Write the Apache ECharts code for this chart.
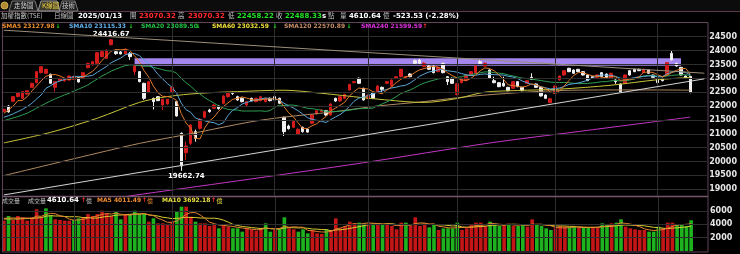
<!DOCTYPE html>
<html>
<head>
<meta charset="utf-8">
<script src="https://cdn.jsdelivr.net/npm/echarts@6.0.0/dist/echarts.min.js"></script>
<style>
html,body{margin:0;padding:0;background:#000;overflow:hidden;}
#chart{width:740px;height:254px;}
</style>
</head>
<body>
<div id="chart"></div>
<script>
// ---------------- DATA ----------------
const dates = [
'2024/06/07','2024/06/11','2024/06/12','2024/06/13','2024/06/14','2024/06/17','2024/06/18','2024/06/19','2024/06/20','2024/06/21',
'2024/06/24','2024/06/25','2024/06/26','2024/06/27','2024/06/28','2024/07/01','2024/07/02','2024/07/03','2024/07/04','2024/07/05',
'2024/07/08','2024/07/09','2024/07/10','2024/07/11','2024/07/12','2024/07/15','2024/07/16','2024/07/17','2024/07/18','2024/07/19',
'2024/07/22','2024/07/23','2024/07/26','2024/07/29','2024/07/30','2024/07/31','2024/08/01','2024/08/02','2024/08/05','2024/08/06',
'2024/08/07','2024/08/08','2024/08/09','2024/08/12','2024/08/13','2024/08/14','2024/08/15','2024/08/16','2024/08/19','2024/08/20',
'2024/08/21','2024/08/22','2024/08/23','2024/08/26','2024/08/27','2024/08/28','2024/08/29','2024/08/30','2024/09/02','2024/09/03',
'2024/09/04','2024/09/05','2024/09/06','2024/09/09','2024/09/10','2024/09/11','2024/09/12','2024/09/13','2024/09/16','2024/09/18',
'2024/09/19','2024/09/20','2024/09/23','2024/09/24','2024/09/25','2024/09/26','2024/09/27','2024/09/30','2024/10/01','2024/10/04',
'2024/10/07','2024/10/08','2024/10/09','2024/10/11','2024/10/14','2024/10/15','2024/10/16','2024/10/17','2024/10/18','2024/10/21',
'2024/10/22','2024/10/23','2024/10/24','2024/10/25','2024/10/28','2024/10/29','2024/10/30','2024/11/01','2024/11/04','2024/11/05',
'2024/11/06','2024/11/07','2024/11/08','2024/11/11','2024/11/12','2024/11/13','2024/11/14','2024/11/15','2024/11/18','2024/11/19',
'2024/11/20','2024/11/21','2024/11/22','2024/11/25','2024/11/26','2024/11/27','2024/11/28','2024/11/29','2024/12/02','2024/12/03',
'2024/12/04','2024/12/05','2024/12/06','2024/12/09','2024/12/10','2024/12/11','2024/12/12','2024/12/13','2024/12/16','2024/12/17',
'2024/12/18','2024/12/19','2024/12/20','2024/12/23','2024/12/24','2024/12/25','2024/12/26','2024/12/27','2024/12/30','2024/12/31',
'2025/01/02','2025/01/03','2025/01/06','2025/01/07','2025/01/08','2025/01/09','2025/01/10','2025/01/13'
];
const opens = [
21810,22000,22170,22340,22280,22434,22675,22843,23203,23180,
23143,22675,22915,22905,22939,22960,23023,23035,23384,23480,
23540,23780,23720,24213,23960,23950,23877,23900,23240,23240,
22819,22482,22278,22338,22037,22074,22518,22158,21016,20319,
20655,21076,21196,21593,21857,21917,22001,22098,22338,22482,
22338,22278,22037,22278,22158,22194,22158,22278,22338,22278,
21593,21280,21232,20992,21232,21160,21377,21720,21800,21833,
21677,22278,22182,22278,22578,22843,23000,22638,22280,22482,
22518,22674,22820,22723,23000,23059,23000,23155,23636,23660,
23420,23444,23444,23240,23540,23059,23000,22420,22843,22915,
23119,23180,23600,23444,23299,22915,22843,22819,22674,22638,
22879,22674,22819,23035,22795,22674,22398,22122,22458,22939,
23119,23360,23299,23324,23240,23119,23059,23035,23203,23155,
23000,22940,22795,22819,23275,23324,23324,23203,23299,23119,
23000,23000,23119,23901,23540,23396,23083,23070.32
];
const closes = [
21880,21790,22338,22482,22518,22554,22819,23240,23420,23324,
22819,22879,23000,23000,23083,23060,22867,23203,23540,23600,
23925,23960,24021,24390,23890,23880,24045,23780,23444,22879,
22278,22879,22158,22194,22242,22242,22674,21641,19838,20559,
21316,20835,21521,21797,21797,22037,21905,22362,22458,22450,
22218,22158,22158,22194,22278,22338,22278,22194,22218,22098,
21076,21184,21473,21160,21076,21060,21677,21830,21857,21677,
22073,22180,22338,22422,22783,22880,22819,22218,22390,22278,
22723,22602,22880,22939,23060,23324,23059,23059,23540,23540,
23540,23324,23203,23396,23203,22879,22819,22800,23000,23119,
23240,23444,23540,23540,23000,22843,22698,22723,22554,22879,
22698,22554,22915,22963,22674,22362,22278,22262,22723,23083,
23275,23240,23180,23240,23119,22915,23000,23119,23059,23000,
23180,22880,22518,23119,23119,23240,23275,23324,23180,23035,
22843,22915,23564,23660,23444,23119,23011.86,22488.33
];
const highs = [
21900,22030,22350,22500,22540,22570,22840,23260,23440,23340,
23170,22900,23020,23010,23100,23100,23050,23220,23560,23620,
23940,23990,24040,24416.67,24030,24000,24080,23950,23450,23260,
22840,22900,22300,22360,22260,22260,22700,22180,21050,20715,
21350,21150,21560,21830,21900,22070,22040,22390,22480,22520,
22370,22310,22180,22300,22300,22360,22300,22310,22360,22300,
21620,21330,21500,21200,21260,21190,21700,21850,21880,21860,
22100,22300,22340,22440,22800,22900,23030,22660,22420,22520,
22740,22700,22900,22960,23080,23340,23080,23180,23680,23700,
23580,23470,23460,23420,23560,23080,23030,22830,23020,23140,
23260,23470,23660,23580,23320,23059,22860,23059,22690,22900,
22900,22690,22930,23180,22810,22690,22420,22300,22740,23100,
23290,23380,23320,23340,23260,23140,23080,23140,23220,23170,
23200,22960,22810,23140,23300,23350,23350,23350,23310,23130,
23030,23020,23580,23997,23560,23410,23100,23070.32
];
const lows = [
21780,21760,22150,22320,22250,22400,22650,22830,23180,23150,
22800,22518,22890,22880,22920,22940,22850,23010,23360,23460,
23520,23760,23700,24190,23850,23860,23860,23660,23120,22860,
22220,22470,21880,22180,21857,22050,22500,21620,19662.74,20054,
20600,20715,21150,21560,21760,21890,21870,22060,22300,22400,
22190,22130,22000,22170,22130,22170,22130,22170,22190,22080,
20920,21150,21200,20950,21040,21040,21350,21700,21780,21650,
21650,22150,22150,22250,22560,22820,22800,22200,22250,22250,
22500,22458,22800,22700,22980,23040,22980,23040,23500,23520,
23400,23300,23180,23220,23180,22760,22800,22380,22820,22900,
23100,23160,23500,23420,22980,22820,22680,22700,22530,22620,
22680,22530,22800,22940,22650,22340,22250,22100,22440,22920,
23100,23220,23160,23220,23100,22900,22980,23010,23040,22980,
22980,22800,22500,22800,23100,23220,23260,23190,23160,23020,
22820,22890,23100,23640,23420,23100,22990,22458.22
];
// volume, 億
const volumes = [
4550,5250,4650,5250,5050,4550,5050,6250,5150,6400,
5400,4750,4650,4550,4550,4650,4900,5050,5550,5250,
5550,6050,5650,5250,5900,4750,5550,5550,6050,5550,
5550,4400,4900,4150,4150,3900,4400,5900,6650,6650,
5150,4400,4150,4150,3750,4050,3400,3900,3650,3400,
3400,2900,3400,3250,3050,3400,4150,2900,3150,3300,
5050,3400,3250,2900,3250,2650,3150,2650,2550,3250,
3150,4900,3400,3750,4400,4150,4250,4150,4100,4150,
3900,3900,4150,3750,3250,4250,4250,3750,5050,3750,
4150,3550,3900,3150,3400,3400,3400,4250,3150,3400,
4050,4250,4250,3750,4400,3900,3750,4050,4050,3750,
3750,4050,3650,4750,3900,3750,3400,3150,3400,3750,
3650,3550,3650,3550,3550,3550,3550,3500,4150,3900,
4150,4250,4750,3650,3400,3250,3150,3150,2900,2900,
3650,3400,4250,4250,3900,3900,3750,4610.64
];
// moving-average values at the left edge, where the history is off-picture
const ma5Head  = [21737,21857,22001,22194];
const ma10Head = [21593,21650,21720,21800,21880,21980,22100,22250,22400];
const ma20Head = [21470,21520,21570,21620,21680,21740,21830,21920,22010,22100,22180,22260,22330,22400,22460,22540,22610,22680,22760];
const volMa5Head  = [4900,4950,4950,4950];
const volMa10Head = [4800,4800,4800,4800,4850,4850,4900,4950,5000];
// long averages as [day index, value]
const ma60Pts  = [[0,20670],[10,21050],[20,21560],[29,22130],[35,22340],[42,22460],[50,22520],[60,22570],[68,22460],[77,22300],[86,22160],[90,22130],[97,22270],[103,22500],[110,22560],[119,22610],[130,22750],[140,22950],[147,23032.59]];
const ma120Pts = [[0,19490],[15,20100],[29,20650],[40,21000],[53,21434],[60,21600],[70,21780],[80,22000],[90,22160],[100,22350],[110,22480],[119,22560],[130,22580],[140,22580],[147,22570.89]];
const ma240Pts = [[0,18100],[27,18760],[50,19300],[77,19955],[104,20666],[123,21080],[147,21599.59]];
// drawn trend lines [day index, value]
const resistLine  = [[0,24735],[150,23184]];
const supportLine = [[0,18794],[150,22980]];
// shaded gap band
const gapFrom = 28, gapTo = 145, gapTop = 23721, gapBottom = 23454;
// tick labels
const priceTicks = [19000,19500,20000,20500,21000,21500,22000,22500,23000,23500,24000,24500];
const volTicks = [2000,4000,6000];
const padCats = [' ','  ','   '];

// ---------------- DERIVED ----------------
function movingAvg(vals, n, head) {
  return vals.map((v, i) => {
    if (i < n - 1) return head[i];
    let s = 0; for (let k = i - n + 1; k <= i; k++) s += vals[k];
    return +(s / n).toFixed(2);
  });
}
const cats = dates.concat(padCats);
const N = dates.length;
const candleData = dates.map((d, i) => [opens[i], closes[i], lows[i], highs[i]]);
const ma5 = movingAvg(closes, 5, ma5Head);
const ma10 = movingAvg(closes, 10, ma10Head);
const ma20 = movingAvg(closes, 20, ma20Head);
const vma5 = movingAvg(volumes, 5, volMa5Head);
const vma10 = movingAvg(volumes, 10, volMa10Head);
const monthStarts = [];
dates.forEach((d, i) => { if (i > 0 && d.slice(5, 7) !== dates[i - 1].slice(5, 7)) monthStarts.push(i); });
let hiIdx = 0, loIdx = 0;
highs.forEach((v, i) => { if (v > highs[hiIdx]) hiIdx = i; });
lows.forEach((v, i) => { if (v < lows[loIdx]) loIdx = i; });
const UP = '#d41c1c', DOWN = '#f0f0f0', VUP = '#c41616', VDN = '#1fb21f';
const volData = volumes.map((v, i) => {
  const prev = i === 0 ? opens[0] : closes[i - 1];
  return { value: v, itemStyle: { color: closes[i] >= prev ? VUP : VDN } };
});
const nullLine = cats.map(() => null);

// ---------------- TEXT ----------------
const FN = '"DejaVu Sans", sans-serif';
const FC = '"Noto Sans CJK TC", "Noto Sans CJK SC", sans-serif';
function T(x, y, text, fill, size, bold, fam) {
  return { type: 'text', x: x, y: y, silent: true, z: 100,
    style: { text: text, fill: fill, font: (bold ? 'bold ' : '') + size + 'px ' + (fam || FN),
      textVerticalAlign: 'middle', verticalAlign: 'middle', textAlign: 'left', align: 'left' } };
}
const GREY = '#c4c4c4';
const graphics = [
  // tab row
  { type: 'rect', shape: { x: 0, y: 0, width: 740, height: 11 }, style: { fill: '#0c0c0c' }, silent: true, z: 90 },
  { type: 'line', shape: { x1: 0, y1: 11.5, x2: 740, y2: 11.5 }, style: { stroke: '#5a3a4c', lineWidth: 1 }, silent: true, z: 91 },
  { type: 'circle', shape: { cx: 4.5, cy: 5.5, r: 3.5 }, style: { fill: '#b08a30', stroke: '#e0c060', lineWidth: 0.8 }, silent: true, z: 92 },
  { type: 'polygon', shape: { points: [[9, 11], [12, 1], [35, 1], [38, 11]] }, style: { fill: '#1c1c1c', stroke: '#777', lineWidth: 1 }, silent: true, z: 92 },
  { type: 'polygon', shape: { points: [[38, 11], [41, 1], [57, 1], [60, 11]] }, style: { fill: '#3c3c2c', stroke: '#999', lineWidth: 1 }, silent: true, z: 93 },
  { type: 'polygon', shape: { points: [[59, 11], [62, 1], [75, 1], [78, 11]] }, style: { fill: '#1c1c1c', stroke: '#777', lineWidth: 1 }, silent: true, z: 92 },
  T(14, 6, '走勢圖', '#d0d0d0', 6.5, false, FC),
  T(42, 6, 'K線圖', '#f0d040', 6.5, false, FC),
  T(62, 6, '技術', '#d0d0d0', 6.5, false, FC),
  // info row
  T(1, 16, '加權指數(TSE)', GREY, 6.5, false, FC),
  T(54, 16, '日線圖', GREY, 6.5, false, FC),
  T(78, 16, '2025/01/13', '#ffffff', 7, true),
  T(130, 16, '開', GREY, 6.5, false, FC),
  T(139, 16, '23070.32', '#ff2a2a', 7, true),
  T(178, 16, '高', GREY, 6.5, false, FC),
  T(188, 16, '23070.32', '#ff2a2a', 7, true),
  T(228, 16, '低', GREY, 6.5, false, FC),
  T(237, 16, '22458.22', '#22e022', 7, true),
  T(276, 16, '收', GREY, 6.5, false, FC),
  T(285, 16, '22488.33', '#22e022', 7, true),
  T(322, 16, 's', '#ffffff', 7, true),
  T(328, 16, '點', GREY, 6.5, false, FC),
  T(340, 16, '量', GREY, 6.5, false, FC),
  T(349, 16, '4610.64', '#ffffff', 7, true),
  T(383, 16, '億', GREY, 6.5, false, FC),
  T(393, 16, '-523.53 (-2.28%)', '#ffffff', 7, true),
  // MA legend
  T(2, 26.5, 'SMA5 23127.98', '#f0902c', 6, true),
  T(55.5, 26.5, '↓', '#22d022', 6, true),
  T(69, 26.5, 'SMA10 23115.33', '#62b2ee', 6, true),
  T(128.5, 26.5, '↓', '#22d022', 6, true),
  T(141, 26.5, 'SMA20 23089.50', '#22c044', 6, true),
  T(195.5, 26.5, '↓', '#22d022', 6, true),
  T(212, 26.5, 'SMA60 23032.59', '#f0e03c', 6, true),
  T(272.5, 26.5, '↓', '#22d022', 6, true),
  T(284, 26.5, 'SMA120 22570.89', '#c8906a', 6, true),
  T(346.5, 26.5, '↓', '#22d022', 6, true),
  T(361, 26.5, 'SMA240 21599.59', '#e030e0', 6, true),
  T(422.5, 26.5, '↑', '#ff3030', 6, true),
  // volume legend
  T(2, 200.5, '成交量', GREY, 6, false, FC),
  T(28, 200.5, '成交量', GREY, 6, false, FC),
  T(47, 200.5, '4610.64', '#ffffff', 7, true),
  T(81, 200.5, '↑', '#ff3030', 6, true),
  T(86, 200.5, '億', GREY, 6, false, FC),
  T(97, 200.5, 'MA5 4011.49', '#f08c30', 6, true),
  T(142, 200.5, '↑', '#ff3030', 6, true),
  T(147, 200.5, '億', '#f08c30', 6, false, FC),
  T(162, 200.5, 'MA10 3692.18', '#e8e040', 6, true),
  T(211, 200.5, '↑', '#ff3030', 6, true),
  T(216.5, 200.5, '億', '#e8e040', 6, false, FC),
  // frames
  { type: 'rect', shape: { x: 2.5, y: 22.5, width: 705.5, height: 229.5 }, style: { fill: 'none', stroke: '#5e4558', lineWidth: 1 }, silent: true, z: 80 },
  { type: 'line', shape: { x1: 2.5, y1: 196.5, x2: 708, y2: 196.5 }, style: { stroke: '#74566c', lineWidth: 1.5 }, silent: true, z: 80 }
];

// ---------------- CHART ----------------
const GRID = '#2e2e2e';
const chart = echarts.init(document.getElementById('chart'), null, { renderer: 'canvas' });
const axisLabelStyle = { color: '#e6e6e6', fontSize: 8, fontWeight: 'bold', fontFamily: FN, margin: 2.5 };
function lineS(name, data, color, xi, z, smooth) {
  return { name: name, type: 'line', data: data, xAxisIndex: xi, yAxisIndex: xi, showSymbol: false, symbol: 'none',
    smooth: smooth || false, silent: true, z: z || 4, lineStyle: { color: color, width: 1 }, animation: false };
}
const option = {
  backgroundColor: '#000',
  animation: false,
  grid: [
    { left: 1.5, right: 32.5, top: 22.85, height: 173.3 },
    { left: 1.5, right: 32.5, top: 196, height: 55 }
  ],
  xAxis: [0, 1].map(g => ({ type: 'category', data: cats, gridIndex: g, boundaryGap: true,
    axisLine: { show: false }, axisTick: { show: false }, axisLabel: { show: false }, splitLine: { show: false } })),
  yAxis: [
    { type: 'value', gridIndex: 0, position: 'right', min: 18750, max: 25000, interval: 250, scale: false,
      axisLine: { show: false }, axisTick: { show: false }, splitLine: { show: false },
      axisLabel: Object.assign({ formatter: v => priceTicks.indexOf(v) >= 0 ? String(v) : '' }, axisLabelStyle) },
    { type: 'value', gridIndex: 1, position: 'right', min: 0, max: 8250, interval: 2000,
      axisLine: { show: false }, axisTick: { show: false }, splitLine: { show: false },
      axisLabel: Object.assign({ formatter: v => volTicks.indexOf(v) >= 0 ? String(v) : '' }, axisLabelStyle) }
  ],
  graphic: { elements: graphics },
  series: [
    { name: 'gridMain', type: 'line', data: nullLine, xAxisIndex: 0, yAxisIndex: 0, silent: true, z: 0, symbol: 'none',
      markLine: { silent: true, symbol: ['none', 'none'], label: { show: false }, animation: false,
        lineStyle: { color: GRID, type: 'solid', width: 1 },
        data: priceTicks.map(v => ({ yAxis: v })).concat(monthStarts.map(i => ({ xAxis: i }))) },
      markArea: { silent: true, animation: false, itemStyle: { color: '#a386ee', opacity: 1 },
        data: [[{ coord: [gapFrom, gapTop] }, { coord: [gapTo, gapBottom] }]] } },
    { name: 'gridVol', type: 'line', data: nullLine, xAxisIndex: 1, yAxisIndex: 1, silent: true, z: 0, symbol: 'none',
      markLine: { silent: true, symbol: ['none', 'none'], label: { show: false }, animation: false,
        lineStyle: { color: GRID, type: 'solid', width: 1 },
        data: volTicks.map(v => ({ yAxis: v })).concat(monthStarts.map(i => ({ xAxis: i }))) } },
    { name: 'K', type: 'candlestick', data: candleData, xAxisIndex: 0, yAxisIndex: 0, z: 3, barWidth: 3, silent: true,
      itemStyle: { color: UP, color0: DOWN, borderColor: UP, borderColor0: DOWN, borderWidth: 1 },
      markPoint: { silent: true, animation: false, symbol: 'circle', symbolSize: 1, itemStyle: { color: 'rgba(0,0,0,0)' },
        label: { show: true, color: '#ffffff', fontSize: 7, fontWeight: 'bold', fontFamily: FN, formatter: '{c}' },
        data: [
          { coord: [hiIdx, highs[hiIdx]], value: highs[hiIdx].toFixed(2), label: { position: 'top', distance: 1 } },
          { coord: [loIdx, lows[loIdx]], value: lows[loIdx].toFixed(2), label: { position: 'bottom', distance: 1, offset: [5, 0] } }
        ] } },
    lineS('MA240', ma240Pts, '#c436c4', 0, 4, 0.3),
    lineS('MA120', ma120Pts, '#b08a62', 0, 4, 0.3),
    lineS('MA60', ma60Pts, '#c8c43a', 0, 4, 0.3),
    lineS('MA20', ma20, '#2e9e52', 0, 4),
    lineS('MA10', ma10, '#5aa6d6', 0, 4),
    lineS('MA5', ma5, '#e07a2c', 0, 4),
    lineS('resist', resistLine, '#9c8e7a', 0, 5),
    lineS('support', supportLine, '#d4d4d4', 0, 5),
    { name: 'Vol', type: 'bar', data: volData, xAxisIndex: 1, yAxisIndex: 1, barWidth: '78%', silent: true, z: 3 },
    lineS('VMA10', vma10, '#d8cc30', 1, 4),
    lineS('VMA5', vma5, '#e08030', 1, 4)
  ]
};
chart.setOption(option);
</script>
</body>
</html>
